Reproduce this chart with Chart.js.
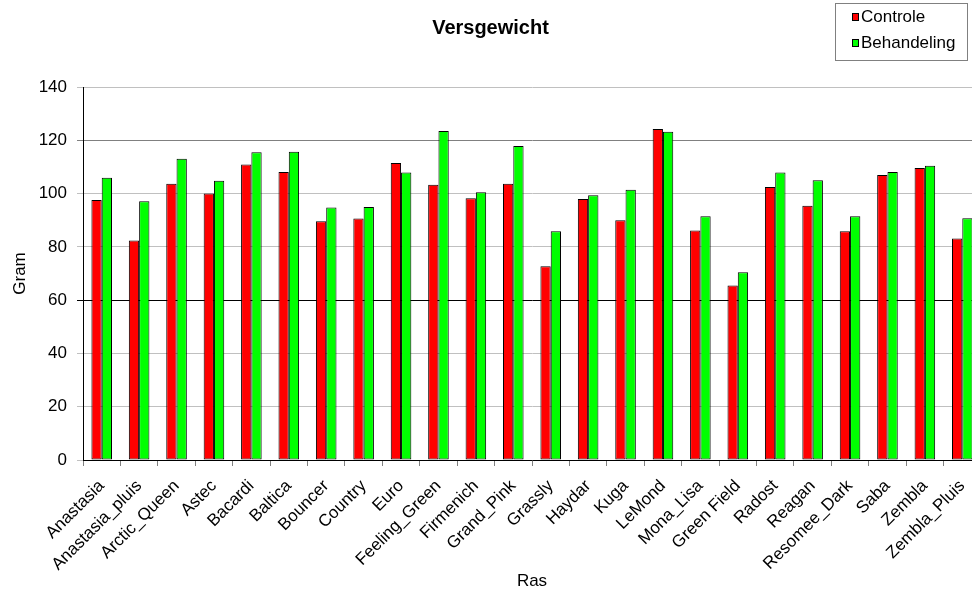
<!DOCTYPE html>
<html>
<head>
<meta charset="utf-8">
<script src="https://cdn.jsdelivr.net/npm/chart.js@4.4.1/dist/chart.umd.min.js"></script>
<style>
  html, body { margin: 0; padding: 0; overflow: hidden; background: #fff; }
  #wrap { width: 1002px; height: 592px; }
</style>
</head>
<body>
<div id="wrap"><canvas id="versChart" width="1002" height="592"></canvas></div>
<script>
const rassen = ['Anastasia', 'Anastasia_pluis', 'Arctic_Queen', 'Astec', 'Bacardi', 'Baltica',
    'Bouncer', 'Country', 'Euro', 'Feeling_Green', 'Firmenich', 'Grand_Pink', 'Grassly',
    'Haydar', 'Kuga', 'LeMond', 'Mona_Lisa', 'Green Field', 'Radost', 'Reagan',
    'Resomee_Dark', 'Saba', 'Zembla', 'Zembla_Pluis'];

const controle = [97.6, 82.4, 103.7, 100.0, 110.9, 108.1, 89.6, 90.6, 111.5, 103.3, 98.2, 103.7,
    72.7, 98.0, 90.0, 124.2, 86.1, 65.5, 102.5, 95.4, 85.9, 107.0, 109.6, 83.1];

const behandeling = [105.9, 97.1, 113.1, 104.8, 115.5, 115.7, 94.8, 95.0, 107.9, 123.5, 100.5, 117.9,
    85.9, 99.4, 101.4, 123.2, 91.5, 70.5, 107.9, 105.0, 91.5, 108.1, 110.4, 90.7];

const yTicks = [0, 20, 40, 60, 80, 100, 120, 140];

const FONT = "'Liberation Sans', Arial, sans-serif";

// gridline shades as they come out in the picture
function gridShade(v) {
    if (v === 60) return '#000000';
    if (v === 120) return '#808080';
    return '#c0c0c0';
}

// legend box sits inside the top right corner, Excel style
const boxLegend = {
    id: 'boxLegend',
    afterDraw(chart) {
        const c = chart.ctx;
        c.save();
        c.fillStyle = '#ffffff';
        c.fillRect(835.5, 3.5, 132, 57);
        c.strokeStyle = '#808080';
        c.lineWidth = 1;
        c.strokeRect(835.5, 3.5, 132, 57);
        c.font = '17px ' + FONT;
        c.textBaseline = 'middle';
        chart.data.datasets.forEach((ds, i) => {
            const y = 17 + i * 26;
            c.fillStyle = ds.backgroundColor;
            c.fillRect(852.5, y - 3.5, 6, 7);
            c.strokeStyle = '#000';
            c.strokeRect(852.5, y - 3.5, 6, 7);
            c.fillStyle = '#000';
            c.fillText(ds.label, 861, y);
        });
        c.restore();
    }
};

new Chart(document.getElementById('versChart'), {
    type: 'bar',
    data: {
        labels: rassen,
        datasets: [{
            label: 'Controle',
            data: controle,
            backgroundColor: '#ff0000',
            borderColor: '#000000',
            borderWidth: 1,
            borderSkipped: false,
            categoryPercentage: 0.55,
            barPercentage: 1.0
        }, {
            label: 'Behandeling',
            data: behandeling,
            backgroundColor: '#00ff00',
            borderColor: '#000000',
            borderWidth: 1,
            borderSkipped: false,
            categoryPercentage: 0.55,
            barPercentage: 1.0
        }]
    },
    options: {
        responsive: false,
        animation: false,
        layout: { padding: { left: 0, right: 21, top: 0, bottom: 0 } },
        plugins: {
            legend: { display: false },
            tooltip: { enabled: false },
            title: {
                display: true,
                text: 'Versgewicht',
                color: '#000',
                font: { family: FONT, size: 20, weight: 'bold' },
                padding: { top: 16, bottom: 47 }
            }
        },
        scales: {
            x: {
                afterFit(scale) { scale.height = 132; },
                border: { color: '#000', width: 1 },
                grid: {
                    display: true,
                    drawOnChartArea: false,
                    drawTicks: true,
                    tickLength: 6,
                    color: '#808080'
                },
                ticks: {
                    color: '#000',
                    font: { family: FONT, size: 17 },
                    minRotation: 45,
                    maxRotation: 45,
                    autoSkip: false,
                    padding: 10
                },
                title: {
                    display: true,
                    text: 'Ras',
                    color: '#000',
                    font: { family: FONT, size: 17 },
                    padding: { top: 0, bottom: 0 }
                }
            },
            y: {
                min: 0,
                max: 140,
                afterFit(scale) { scale.width = 83; },
                afterBuildTicks(scale) { scale.ticks = yTicks.map(v => ({ value: v })); },
                border: { color: '#000', width: 1 },
                grid: {
                    color: ctx => gridShade(ctx.tick.value),
                    tickLength: 6,
                    lineWidth: 1
                },
                ticks: {
                    color: '#000',
                    font: { family: FONT, size: 17 },
                    padding: 10
                },
                title: {
                    display: true,
                    text: 'Gram',
                    color: '#000',
                    font: { family: FONT, size: 17 },
                    padding: { top: 10, bottom: 0 }
                }
            }
        }
    },
    plugins: [boxLegend]
});
</script>
</body>
</html>
